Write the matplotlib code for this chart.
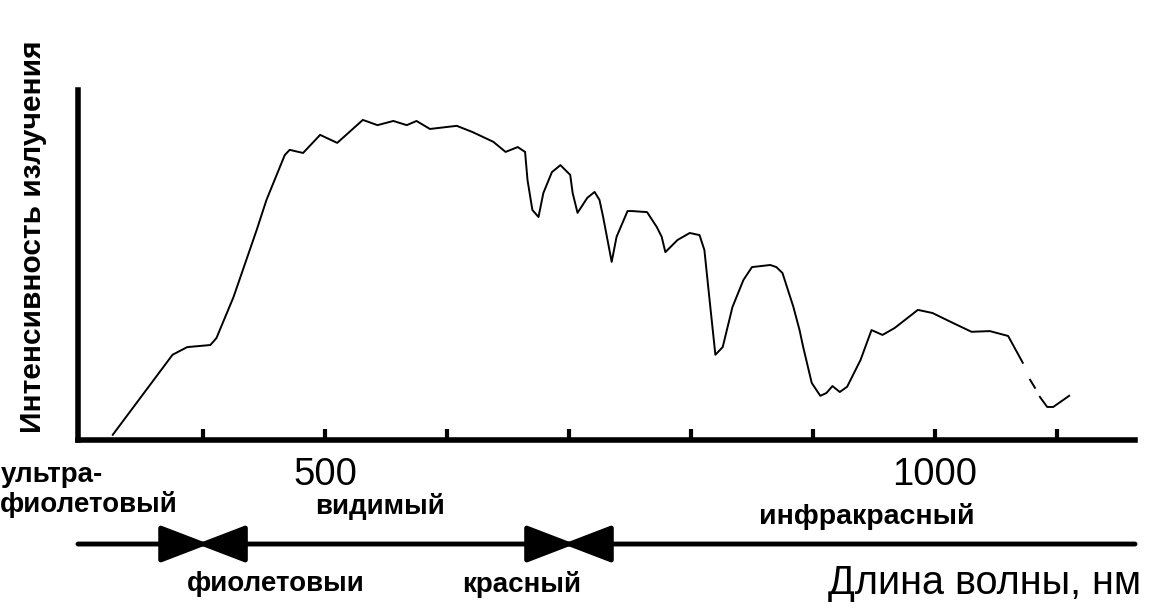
import matplotlib
matplotlib.use("Agg")
import matplotlib.pyplot as plt
import numpy as np

plt.rcParams['font.family'] = ['Liberation Sans', 'DejaVu Sans']

# spectrum: wavelength [nm], intensity [arb. units, 0..100]
nan = np.nan
wavelength = [326, 375, 387, 406, 411, 425, 444, 452, 467, 471, 482, 496, 510,
              531, 543, 556, 567, 575, 586, 608, 621, 638, 648, 658, 664, 666,
              670, 675, 679, 686, 693, 701, 703, 707, 715, 721, 725, 728, 735,
              739, 748, 752, 764, 772, 776, 779, 789, 799, 807, 811, 815, 820,
              826, 834, 843, 850, 865, 870, 875, 884, 889, 892, 899, 906, 911,
              916, 922, 928, 939, 948, 957, 967, 986, 998, 1015, 1030, 1045,
              1060, 1072, nan, 1078, 1082, nan, 1086, 1092, 1097, 1110]
intensity = [0.9, 23.9, 26.1, 26.7, 28.7, 40.5, 59.8, 68.4, 81.3, 82.8, 81.9, 87.1, 84.8,
             91.4, 89.9, 91.1, 89.9, 91.1, 88.8, 89.7, 87.9, 85.1, 82.2, 83.6, 82.2, 74.1,
             65.5, 63.5, 70.4, 76.4, 78.4, 75.6, 70.4, 64.7, 69.0, 70.7, 68.4, 63.5, 50.6,
             57.8, 65.2, 65.2, 64.9, 60.6, 57.8, 53.4, 56.9, 58.9, 58.3, 54.0, 40.5, 23.9,
             26.1, 37.6, 45.4, 49.1, 49.7, 49.1, 47.4, 37.6, 31.0, 26.1, 15.8, 12.1, 12.9,
             14.9, 13.2, 14.7, 22.4, 31.0, 29.6, 31.6, 36.8, 35.9, 33.0, 30.5, 30.7,
             29.3, 21.6, nan, 16.7, 14.4, nan, 11.8, 8.9, 8.9, 12.1]

ticks = [400, 500, 600, 700, 800, 900, 1000, 1100]
labelled_ticks = [500, 1000]
band_edges = [400, 700]   # UV | visible | IR
wl_min, wl_max = 297.5, 1164

W, H = 1175, 612
fig = plt.figure(figsize=(W / 100, H / 100), dpi=100)
ax = fig.add_axes([78 / W, 1 - 440 / H, (1135 - 78) / W, (440 - 90) / H])

ax.plot(wavelength, intensity, color='k', lw=1.4)
ax.set_xlim(wl_min, wl_max)
ax.set_ylim(-0.6, 100)

for s in ['top', 'right']:
    ax.spines[s].set_visible(False)
for s in ['left', 'bottom']:
    ax.spines[s].set_linewidth(4)
ax.set_yticks([])
ax.set_xticks(ticks)
ax.set_xticklabels([str(t) if t in labelled_ticks else '' for t in ticks])
ax.tick_params(axis='x', direction='in', length=8, width=3, pad=12, labelsize=27.5)

# band arrow under the axis; heads meet at the band edges
y_arr = -30.5
head = 'head_length=3.0,head_width=1.15'
ov = 5  # small overshoot so the tips touch (arrow tips are pulled back by the line width)
segs = [(wl_min, band_edges[0] + ov, '-|>,' + head),
        (band_edges[0] - ov, band_edges[1] + ov, '<|-|>,' + head),
        (band_edges[1] - ov, wl_max, '<|-,' + head)]
for x0, x1, style in segs:
    ax.annotate('', xy=(x1, y_arr), xytext=(x0, y_arr), annotation_clip=False,
                arrowprops=dict(arrowstyle=style, lw=3.5, color='k',
                                mutation_scale=10, shrinkA=0, shrinkB=0))

def px_text(x, y, s, **kw):
    fig.text(x / W, 1 - y / H, s, va='center', **kw)

px_text(33, 237, 'Интенсивность излучения', rotation=90, ha='center',
        fontsize=21.5, fontweight='bold')
px_text(103, 475, 'ультра-', ha='right', fontsize=20, fontweight='bold')
px_text(178, 505, 'фиолетовый', ha='right', fontsize=20, fontweight='bold')
px_text(380, 507, 'видимый', ha='center', fontsize=20, fontweight='bold')
px_text(867, 516, 'инфракрасный', ha='center', fontsize=20.5, fontweight='bold')
px_text(276, 584, 'фиолетовыи', ha='center', fontsize=20, fontweight='bold')
px_text(522, 584, 'красный', ha='center', fontsize=20, fontweight='bold')
px_text(985, 583, 'Длина волны, нм', ha='center', fontsize=28.5)

fig.savefig('out.png', dpi=100)
